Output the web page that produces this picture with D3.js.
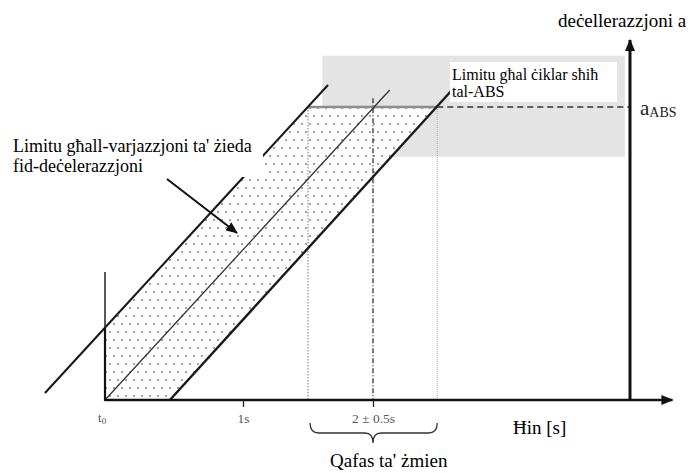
<!DOCTYPE html>
<html>
<head>
<meta charset="utf-8">
<script src="https://cdn.jsdelivr.net/npm/d3@7"></script>
<style>
  body { margin: 0; background: #fff; }
  svg { display: block; }
</style>
</head>
<body>
<script>
// time in seconds (the drawing is not to scale), deceleration normalised to a_ABS = 1
const timeKnots = [0, 1, 2, 4];
const tickTimes = [1, 2];
const tickLabels = ['1s', '2 ± 0.5s'];
const timeWindow = [1.5, 2.5];
const aAbs = 1;
const absBandLevels = [0.83, 1.175];
const absBandTimes = [1.61, 3.96];
const upperLimit = [[-0.435, 0.024], [1.654, 1.075]];
const centreLine = [[0, 0], [2.13, 1.058]];
const lowerLimit = [[0.47, 0], [2.615, 1.058]];
const corridor = [[0, 0], [0.47, 0], [2.5, 1], [1.5, 1], [0, 0.247]];
const t0Height = 0.437;
const axisEnds = { time: 4.33, decel: 1.229 };

const width = 693;
const height = 473;
const serif = 'Liberation Serif';

const svg = d3.select('body').append('svg')
  .attr('width', width)
  .attr('height', height);

const x = d3.scaleLinear()
  .domain(timeKnots)
  .range([105, 243, 373, 630]);

const y = d3.scaleLinear()
  .domain([0, aAbs])
  .range([400, 107]);

const defs = svg.append('defs');

const dots = defs.append('pattern')
  .attr('id', 'dots')
  .attr('patternUnits', 'userSpaceOnUse')
  .attr('width', 8)
  .attr('height', 16);
dots.append('rect').attr('width', 8).attr('height', 16).attr('fill', '#fff');
dots.append('circle').attr('cx', 2).attr('cy', 4).attr('r', 0.95).attr('fill', '#7a7a7a');
dots.append('circle').attr('cx', 6).attr('cy', 12).attr('r', 0.95).attr('fill', '#7a7a7a');

defs.append('marker')
  .attr('id', 'head')
  .attr('viewBox', '0 0 12 10')
  .attr('refX', 11)
  .attr('refY', 5)
  .attr('markerUnits', 'userSpaceOnUse')
  .attr('markerWidth', 12)
  .attr('markerHeight', 10)
  .attr('orient', 'auto')
  .append('path')
  .attr('d', 'M0,0L12,5L0,10Z')
  .attr('fill', '#111');

const line = d3.line()
  .x(d => x(d[0]))
  .y(d => y(d[1]));

// ABS cycling band
svg.append('rect')
  .attr('x', x(absBandTimes[0]))
  .attr('y', y(absBandLevels[1]))
  .attr('width', x(absBandTimes[1]) - x(absBandTimes[0]))
  .attr('height', y(absBandLevels[0]) - y(absBandLevels[1]))
  .attr('fill', '#e4e4e4');

// allowed corridor
svg.append('path')
  .attr('d', line(corridor) + 'Z')
  .attr('fill', 'url(#dots)');

// time window verticals
svg.append('line')
  .attr('x1', x(timeWindow[0])).attr('x2', x(timeWindow[0]))
  .attr('y1', y(aAbs)).attr('y2', y(0))
  .attr('stroke', '#777').attr('stroke-width', 1).attr('stroke-dasharray', '1.5,1.5');

svg.append('line')
  .attr('x1', x(timeWindow[1])).attr('x2', x(timeWindow[1]))
  .attr('y1', y(aAbs)).attr('y2', y(0))
  .attr('stroke', '#aaa').attr('stroke-width', 1).attr('stroke-dasharray', '1,1');

svg.append('line')
  .attr('x1', x(2)).attr('x2', x(2))
  .attr('y1', y(1.03)).attr('y2', y(0))
  .attr('stroke', '#222').attr('stroke-width', 1.2).attr('stroke-dasharray', '5,2,1,2');

// a_ABS level
svg.append('line')
  .attr('x1', x(timeWindow[0])).attr('x2', x(timeWindow[1]))
  .attr('y1', y(aAbs)).attr('y2', y(aAbs))
  .attr('stroke', '#8c8c8c').attr('stroke-width', 2.5);

svg.append('line')
  .attr('x1', x(timeWindow[1])).attr('x2', x(4))
  .attr('y1', y(aAbs)).attr('y2', y(aAbs))
  .attr('stroke', '#333').attr('stroke-width', 1.3).attr('stroke-dasharray', '6,4');

// limit lines
svg.append('path').attr('d', line(upperLimit))
  .attr('stroke', '#1a1a1a').attr('stroke-width', 2.1).attr('fill', 'none');
svg.append('path').attr('d', line(centreLine))
  .attr('stroke', '#333').attr('stroke-width', 1.3).attr('fill', 'none');
svg.append('path').attr('d', line(lowerLimit))
  .attr('stroke', '#1a1a1a').attr('stroke-width', 2.4).attr('fill', 'none');

// t0 marker
svg.append('line')
  .attr('x1', x(0)).attr('x2', x(0))
  .attr('y1', y(t0Height)).attr('y2', y(0))
  .attr('stroke', '#222').attr('stroke-width', 1.5);

svg.append('path')
  .attr('d', line([corridor[4], corridor[0], corridor[1]]))
  .attr('stroke', '#111').attr('stroke-width', 2.2).attr('fill', 'none');

// label backgrounds
svg.append('rect')
  .attr('x', 8).attr('y', 131)
  .attr('width', 255).attr('height', 46)
  .attr('fill', '#fff');

svg.append('rect')
  .attr('x', 450).attr('y', 62)
  .attr('width', 167).attr('height', 40)
  .attr('fill', '#fff');

svg.append('line')
  .attr('x1', 167).attr('y1', 179)
  .attr('x2', 237).attr('y2', 233)
  .attr('stroke', '#111').attr('stroke-width', 2)
  .attr('marker-end', 'url(#head)');

// axes
svg.append('line')
  .attr('x1', x(0)).attr('x2', x(axisEnds.time))
  .attr('y1', y(0)).attr('y2', y(0))
  .attr('stroke', '#111').attr('stroke-width', 2.6)
  .attr('marker-end', 'url(#head)');

svg.append('line')
  .attr('x1', x(4)).attr('x2', x(4))
  .attr('y1', y(0)).attr('y2', y(axisEnds.decel))
  .attr('stroke', '#111').attr('stroke-width', 3)
  .attr('marker-end', 'url(#head)');

const xAxis = svg.append('g')
  .attr('transform', `translate(0,${y(0)})`)
  .call(d3.axisBottom(x)
    .tickValues(tickTimes)
    .tickFormat((d, i) => tickLabels[i])
    .tickSize(7)
    .tickSizeOuter(0)
    .tickPadding(6));
xAxis.attr('font-family', serif).attr('font-size', 13.5);
xAxis.select('.domain').remove();
xAxis.selectAll('.tick line').attr('stroke', '#222').attr('stroke-width', 1.3);
xAxis.selectAll('.tick text').attr('fill', '#555');

const t0Label = svg.append('text')
  .attr('font-family', serif)
  .attr('x', x(0) - 7)
  .attr('y', 422)
  .attr('font-size', 13)
  .attr('fill', '#555');
t0Label.append('tspan').text('t');
t0Label.append('tspan').attr('font-size', 9).attr('dy', 2).text('0');

// time window brace
const bx0 = x(timeWindow[0]) + 2;
const bx1 = x(timeWindow[1]);
const bm = x(2);
const brace = d3.path();
brace.moveTo(bx0, 423);
brace.quadraticCurveTo(bx0, 433, bx0 + 9, 433);
brace.lineTo(bm - 8, 433);
brace.quadraticCurveTo(bm, 433, bm, 443);
brace.quadraticCurveTo(bm, 433, bm + 8, 433);
brace.lineTo(bx1 - 9, 433);
brace.quadraticCurveTo(bx1, 433, bx1, 423);
svg.append('path')
  .attr('d', brace.toString())
  .attr('stroke', '#333').attr('stroke-width', 1.3).attr('fill', 'none');

const aLabel = svg.append('text')
  .attr('font-family', serif)
  .attr('x', 640).attr('y', 115)
  .attr('font-size', 21)
  .attr('fill', '#222');
aLabel.append('tspan').text('a');
aLabel.append('tspan').attr('font-size', 14).attr('dy', 2).text('ABS');

// annotation texts, one element per line, words in their own tspans
const textLines = [
  [13, 152, 18, 'Limitu għall-varjazzjoni ta\' żieda'],
  [13, 172, 18, 'fid-deċelerazzjoni'],
  [452, 80, 16, 'Limitu għal ċiklar sħiħ'],
  [452, 97, 16, 'tal-ABS'],
  [330, 467, 19, 'Qafas ta\' żmien'],
  [513, 434, 19, 'Ħin [s]'],
  [558, 27, 19, 'deċellerazzjoni a']
];
textLines.forEach(d => {
  const t = svg.append('text')
    .attr('x', d[0]).attr('y', d[1])
    .attr('font-family', serif)
    .attr('font-size', d[2])
    .style('font', `${d[2]}px "Liberation Serif"`);
  const words = d[3].split(' ');
  words.forEach((w, i) => {
    t.append('tspan').text(i < words.length - 1 ? w + ' ' : w);
  });
});
</script>
</body>
</html>
